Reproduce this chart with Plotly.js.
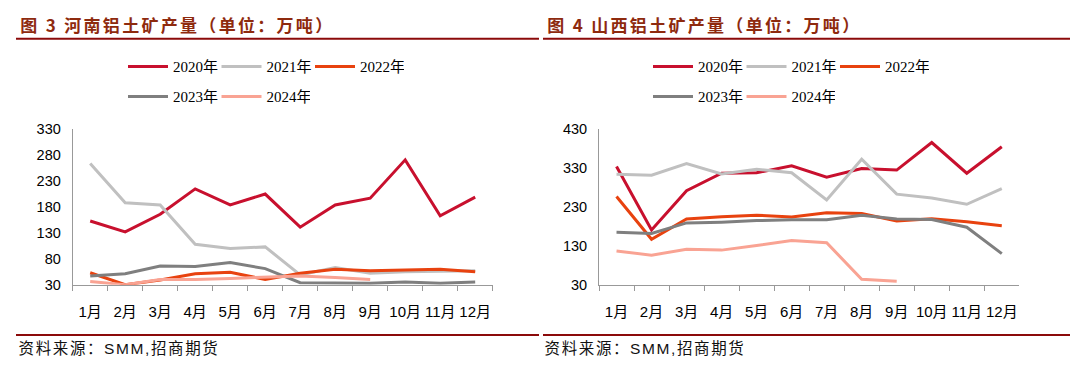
<!DOCTYPE html>
<html><head><meta charset="utf-8">
<script src="https://cdn.plot.ly/plotly-3.0.1.min.js"></script>
<style>
html,body{margin:0;padding:0;background:#fff;}
#chart{width:1070px;height:366px;}
g.annotation[data-index="0"] text, g.annotation[data-index="1"] text {letter-spacing:2.3px;}
g.annotation[data-index="2"] text, g.annotation[data-index="3"] text {letter-spacing:1.6px;}
</style></head><body><div id="chart"></div>
<script>
const months = ['1月','2月','3月','4月','5月','6月','7月','8月','9月','10月','11月','12月'];
const years = ['2020年','2021年','2022年','2023年','2024年'];
const colors = ['#C8102E','#C0C0C0','#E8420F','#7F7F7F','#F9A393'];

// 河南铝土矿产量（万吨）
const henan2020 = [153,132,166,215,184,205,141,184,197,271,163,199];
const henan2021 = [264,188,184,108,100,103,49,63,52,55,56,57];
const henan2022 = [53,30,39,51,54,40,52,60,57,59,60,55];
const henan2023 = [47,51,66,65,73,61,34,34,33,35,33,35];
const henan2024 = [36,30,40,40,42,45,47,44,40];

// 山西铝土矿产量（万吨）
const shanxi2020 = [334,171,272,317,318,336,307,329,325,396,317,385];
const shanxi2021 = [314,312,342,315,327,318,248,353,263,253,237,277];
const shanxi2022 = [257,147,199,205,209,204,215,213,194,200,192,182];
const shanxi2023 = [165,162,189,191,195,197,197,209,199,198,178,110];
const shanxi2024 = [117,106,121,119,131,144,138,44,39];

const henan = [henan2020,henan2021,henan2022,henan2023,henan2024];
const shanxi = [shanxi2020,shanxi2021,shanxi2022,shanxi2023,shanxi2024];

const titleL = '图 3 河南铝土矿产量（单位：万吨）';
const titleR = '图 4 山西铝土矿产量（单位：万吨）';
const source = '资料来源：SMM,招商期货';

const W = 1070, H = 366;
const px = v => v / W, py = v => 1 - v / H;

const traces = [];
function addSet(data, xa, ya, legA, legB){
  data.forEach((vals, i) => {
    traces.push({
      type:'scatter', mode:'lines', name: years[i],
      x: months.slice(0, vals.length), y: vals,
      xaxis: xa, yaxis: ya,
      line:{color: colors[i], width: 3},
      legend: i < 3 ? legA : legB,
      hoverinfo:'skip'
    });
  });
}
addSet(henan, 'x', 'y', 'legend', 'legend2');
addSet(shanxi, 'x2', 'y2', 'legend3', 'legend4');

const tickFont = {family:'Liberation Sans, Arial, Noto Sans CJK SC, sans-serif', size:15, color:'#000'};
const yTickFont = {family:'Liberation Sans, Arial, sans-serif', size:14.5, color:'#000'};
const legFont = {family:'Liberation Serif, Noto Sans CJK SC, serif', size:15, color:'#000'};

function xaxis(dom){
  return {domain: dom, type:'category', categoryarray: months, range:[-0.5, 11.5],
    showline:true, linecolor:'#999', linewidth:1, ticks:'outside', ticklen:5, tickcolor:'#999',
    tickson:'boundaries', tickangle:0, showgrid:false, zeroline:false, tickfont: tickFont,
    ticklabelstandoff: 13, fixedrange:true};
}
function yaxis(range, dtick, anchor){
  return {domain:[py(284.7), py(129.3)], range: range, dtick: dtick, tick0: 30, anchor: anchor,
    showline:true, linecolor:'#999', linewidth:1, ticks:'', showgrid:false, zeroline:false,
    tickfont: yTickFont, ticklabelstandoff: 8, fixedrange:true};
}
function leg(x, y){
  return {orientation:'h', x: px(x), y: py(y), xanchor:'left', yanchor:'middle',
    font: legFont, bgcolor:'rgba(0,0,0,0)', itemwidth: 40, entrywidth: 38.5, entrywidthmode:'pixels',
    traceorder:'normal', itemclick:false, itemdoubleclick:false};
}

const titleFont = {family:'Noto Sans CJK SC, sans-serif', size:17, color:'#8E2A0E', weight:'bold'};
const srcFont = {family:'Liberation Sans, Arial, Noto Sans CJK SC, sans-serif', size:15.5, color:'#111'};
const ruleColor = '#8B0A0A';
// letter-spacing is applied by CSS after measuring, so shift the anchor by half the extra width
const tShift = titleL.length * 2.3 / 2;
const sShift = source.length * 1.6 / 2;

const layout = {
  width: W, height: H, margin:{l:0,r:0,t:0,b:0},
  paper_bgcolor:'#fff', plot_bgcolor:'rgba(0,0,0,0)', showlegend:true,
  xaxis: xaxis([px(72.7), px(492.7)]),
  yaxis: yaxis([30, 330], 50, 'x'),
  xaxis2: Object.assign(xaxis([px(599), px(1019.3)]), {anchor:'y2'}),
  yaxis2: yaxis([30, 430], 100, 'x2'),
  legend: leg(123, 66.7), legend2: leg(123, 96.7),
  legend3: leg(648, 66.7), legend4: leg(648, 96.7),
  annotations: [
    {text:titleL, xref:'paper', yref:'paper', x:px(18 + tShift), y:py(25), xanchor:'left', yanchor:'middle', showarrow:false, font:titleFont},
    {text:titleR, xref:'paper', yref:'paper', x:px(545 + tShift), y:py(25), xanchor:'left', yanchor:'middle', showarrow:false, font:titleFont},
    {text:source, xref:'paper', yref:'paper', x:px(17 + sShift), y:py(348), xanchor:'left', yanchor:'middle', showarrow:false, font:srcFont},
    {text:source, xref:'paper', yref:'paper', x:px(543 + sShift), y:py(348), xanchor:'left', yanchor:'middle', showarrow:false, font:srcFont}
  ],
  shapes: [
    {type:'line', xref:'paper', yref:'paper', x0:px(16), x1:px(539), y0:py(38.7), y1:py(38.7), line:{color:ruleColor, width:2}},
    {type:'line', xref:'paper', yref:'paper', x0:px(543), x1:px(1070), y0:py(38.7), y1:py(38.7), line:{color:ruleColor, width:2}},
    {type:'line', xref:'paper', yref:'paper', x0:px(16), x1:px(539), y0:py(335), y1:py(335), line:{color:ruleColor, width:2}},
    {type:'line', xref:'paper', yref:'paper', x0:px(543), x1:px(1070), y0:py(335), y1:py(335), line:{color:ruleColor, width:2}}
  ]
};

Plotly.newPlot('chart', traces, layout, {staticPlot:true, displayModeBar:false});
</script></body></html>
